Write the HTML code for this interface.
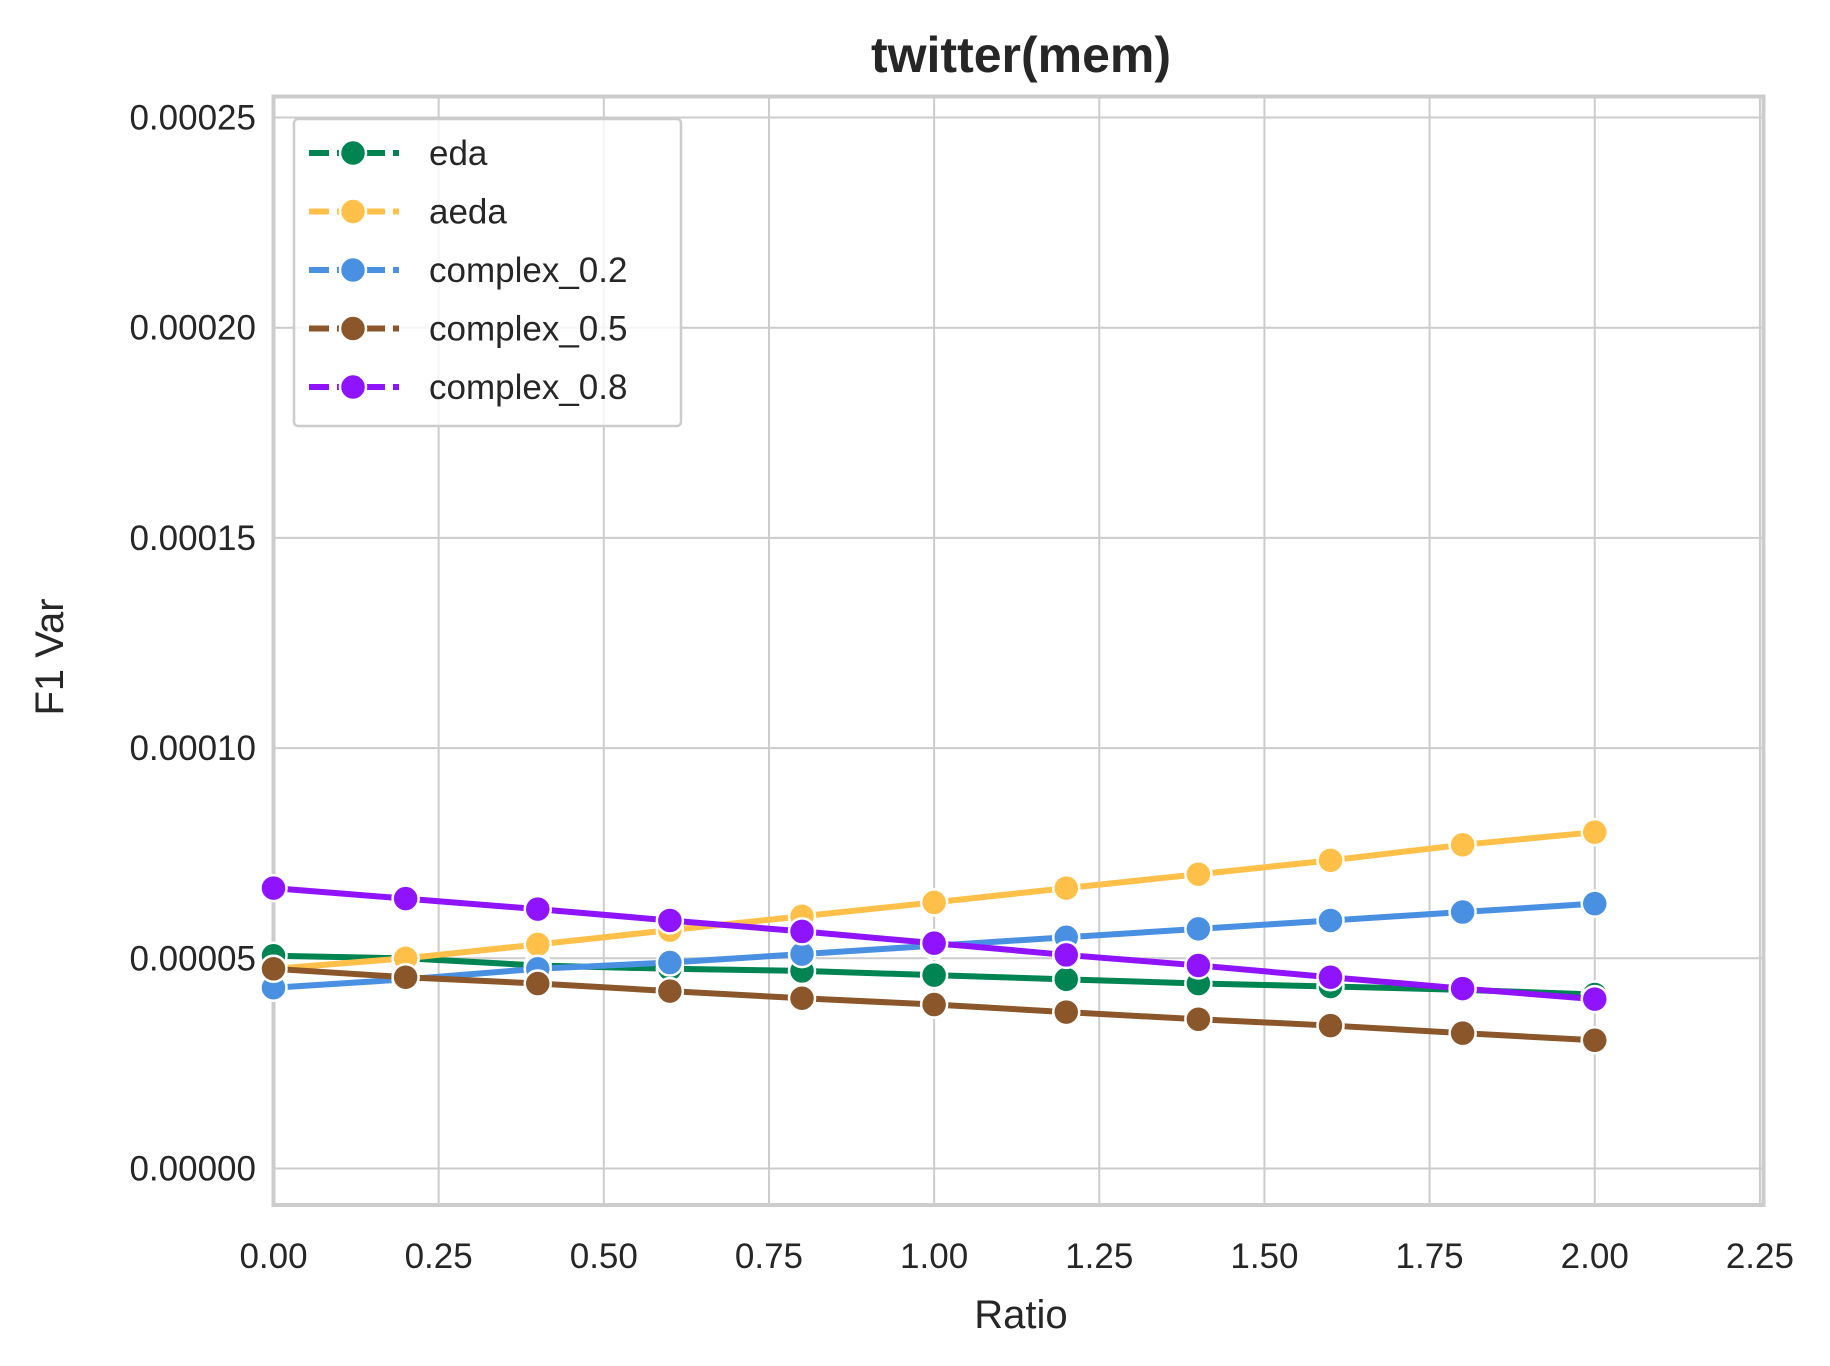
<!DOCTYPE html>
<html><head><meta charset="utf-8"><style>
body{margin:0;background:#fff}
svg{display:block;font-family:"Liberation Sans",Arial,sans-serif}
</style></head><body>
<svg id="chart" width="1830" height="1366" viewBox="0 0 1830 1366" xmlns="http://www.w3.org/2000/svg">
<rect width="1830" height="1366" fill="#fff"/>
<g id="grid"></g>
<g id="ticks"></g>
<rect x="273.5" y="96.5" width="1490" height="1108.5" fill="none" stroke="#ccc" stroke-width="4"/>
<g id="series"></g>
<text x="1021" y="72" text-anchor="middle" font-size="50" font-weight="bold" fill="#262626">twitter(mem)</text>
<text x="1021" y="1328" text-anchor="middle" font-size="40" fill="#262626">Ratio</text>
<text transform="translate(63,657) rotate(-90)" text-anchor="middle" font-size="40" fill="#262626">F1 Var</text>
<g id="legend"></g>
</svg>
<script>
const xs=[0,0.2,0.4,0.6,0.8,1.0,1.2,1.4,1.6,1.8,2.0];
const seriesNames=["eda","aeda","complex_0.2","complex_0.5","complex_0.8"];
const eda=[5.06,5.0,4.83,4.75,4.7,4.6,4.5,4.4,4.33,4.25,4.14];
const aeda=[4.75,5.0,5.33,5.67,6.0,6.33,6.67,7.0,7.33,7.7,8.0];
const c02=[4.3,4.5,4.75,4.9,5.1,5.3,5.5,5.7,5.9,6.1,6.3];
const c05=[4.75,4.55,4.4,4.22,4.05,3.9,3.72,3.55,3.4,3.22,3.05];
const c08=[6.67,6.42,6.17,5.9,5.64,5.36,5.08,4.83,4.55,4.28,4.03];
const xTicks=["0.00","0.25","0.50","0.75","1.00","1.25","1.50","1.75","2.00","2.25"];
const yTicks=["0.00000","0.00005","0.00010","0.00015","0.00020","0.00025"];
const colors=["#008452","#ffc04a","#4a90e2","#8b572a","#9013fe"];
const NS="http://www.w3.org/2000/svg";
const X=v=>273.5+v/2.25*1486.4;
const Y=v=>1168.5-v/25*1051; // v in units of 1e-5
function mk(t,a,p){const e=document.createElementNS(NS,t);for(const k in a)e.setAttribute(k,a[k]);p.appendChild(e);return e;}
const grid=document.getElementById('grid'),ticks=document.getElementById('ticks');
xTicks.forEach(t=>{const x=X(parseFloat(t));
 const l=mk('line',{x1:x,x2:x,y1:96,y2:1205,stroke:'#ccc','stroke-width':2},grid);
 
 
 const tx=mk('text',{x:x,y:1268,'text-anchor':'middle','font-size':35,fill:'#262626'},ticks);tx.textContent=t;
 
 
});
yTicks.forEach(t=>{const y=Y(parseFloat(t)*1e5);
 const l=mk('line',{x1:273,x2:1764,y1:y,y2:y,stroke:'#ccc','stroke-width':2},grid);
 
 
 const tx=mk('text',{x:256,y:y+12,'text-anchor':'end','font-size':35,fill:'#262626'},ticks);tx.textContent=t;
 
 
});
const data=[eda,aeda,c02,c05,c08];
const sg=document.getElementById('series');
data.forEach((d,i)=>{
 const g=mk('g',{},sg);
 
 
 mk('polyline',{points:d.map((v,j)=>X(xs[j])+','+Y(v)).join(' '),fill:'none',stroke:colors[i],'stroke-width':6,'stroke-linejoin':'round'},g);
 d.forEach((v,j)=>{const c=mk('circle',{cx:X(xs[j]),cy:Y(v),r:13,fill:colors[i],stroke:'#fff','stroke-width':2.5},g);
  
  });
});
const lg=document.getElementById('legend');
mk('rect',{x:294,y:119,width:387,height:307,rx:4,fill:'#fff','fill-opacity':0.8,stroke:'#ccc','stroke-width':2.5},lg);
seriesNames.forEach((n,i)=>{const y=153+i*58.5;
 const e=mk('g',{},lg);
 
 
 mk('line',{x1:309,x2:399,y1:y,y2:y,stroke:colors[i],'stroke-width':6,'stroke-dasharray':'20,8'},e);
 mk('circle',{cx:353,cy:y,r:13,fill:colors[i],stroke:'#fff','stroke-width':2.5},e);
 const t=mk('text',{x:429,y:y+12,'font-size':35,fill:'#262626'},e);t.textContent=n;
});
</script>
</body></html>
